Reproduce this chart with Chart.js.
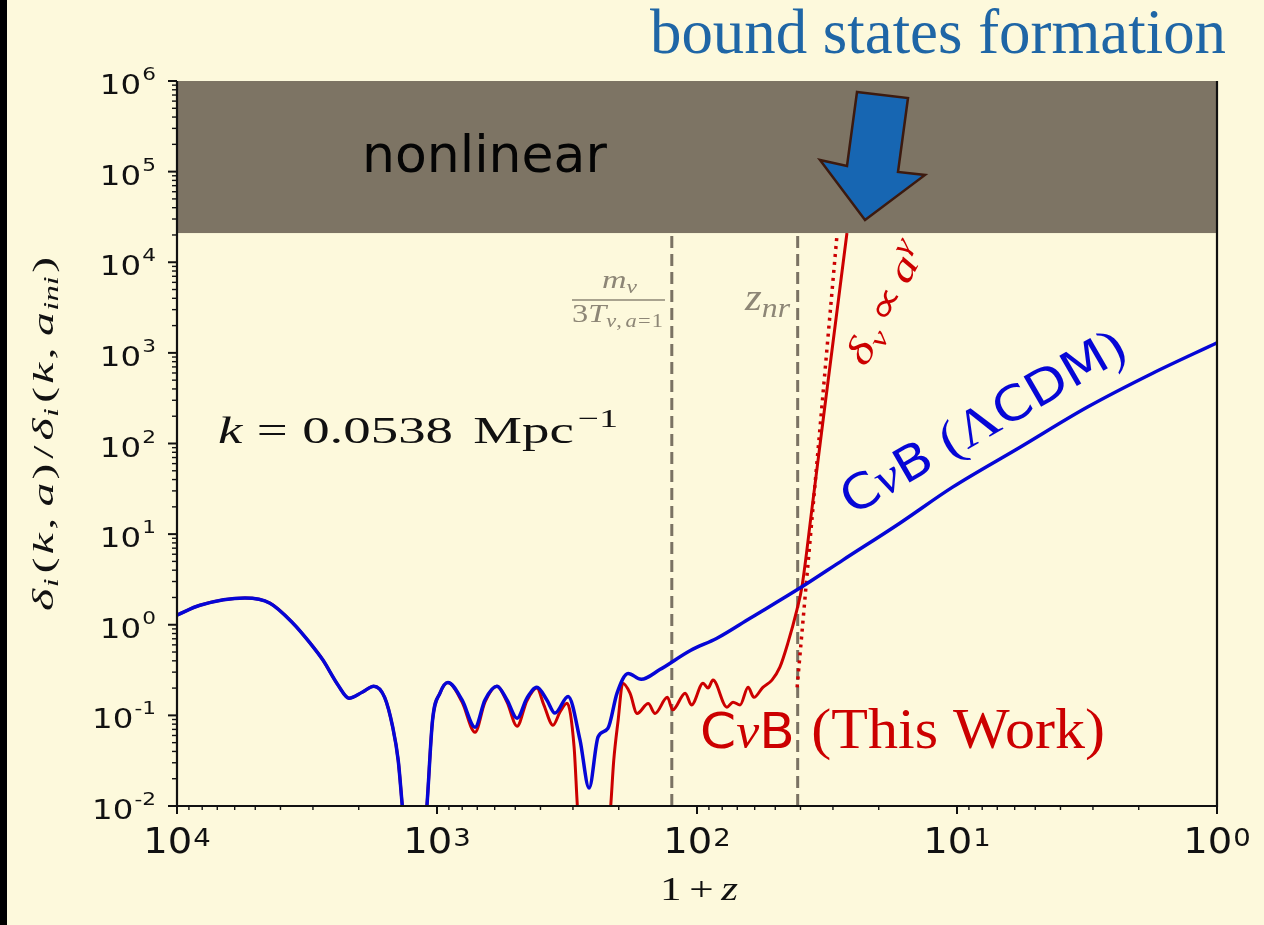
<!DOCTYPE html>
<html>
<head>
<meta charset="utf-8">
<script src="https://cdn.jsdelivr.net/npm/chart.js@4.4.1/dist/chart.umd.min.js"></script>
<style>
  html, body { margin: 0; padding: 0; background: #fdf9dc; }
  #grafico { display: block; }
</style>
</head>
<body>
<canvas id="grafico" width="1264" height="925"></canvas>
<script>
const umMaisZAzul = [10000, 8160, 5480, 4390, 3580, 3080, 2750, 2400, 2180, 1940, 1750, 1590, 1480, 1410,
    1350, 1230, 1100, 1040, 974, 908, 801, 714, 654, 588, 538, 492, 451, 413, 378, 352, 313, 282, 260,
    240, 220, 203, 184, 164, 139, 106, 83.8, 62.5, 40.2, 27.4, 16.6, 10.4, 5.72, 3.16, 1.76, 1];
const deltaAzul = [1.28, 1.64, 1.97, 1.73, 1.04, 0.63, 0.41, 0.215, 0.155, 0.18, 0.21, 0.158, 0.074, 0.032,
    0.008, 0.0008, 0.008, 0.089, 0.176, 0.23, 0.148, 0.074, 0.148, 0.21, 0.148, 0.093, 0.155, 0.204, 0.148, 0.106, 0.162, 0.054, 0.0158,
    0.058, 0.072, 0.176, 0.29, 0.25, 0.32, 0.52, 0.71, 1.18, 2.54, 5.2, 13.2, 33, 91, 251, 600, 1290];

// curva vermelha (este trabalho)
const umMaisZVermelho = [10000, 8160, 5480, 4390, 3580, 3080, 2750, 2400, 2180, 1940, 1750, 1590, 1480, 1410,
    1350, 1230, 1100, 1040, 974, 908, 801, 714, 654, 588, 538, 492, 451, 413, 388, 358, 336, 316, 297, 287,
    249, 216, 209, 201, 193, 181, 170, 154, 145, 130, 124, 111, 105, 94.8, 90.7, 86.8, 76.7, 72.7, 68.3,
    63.6, 60.4, 55.8, 51.5, 48.0, 44.7, 41.3, 39.5, 36.1, 32.2, 26.5];
const deltaVermelho = [1.28, 1.64, 1.97, 1.73, 1.04, 0.63, 0.41, 0.215, 0.155, 0.18, 0.21, 0.158, 0.074, 0.032,
    0.008, 0.0008, 0.008, 0.089, 0.176, 0.23, 0.14, 0.065, 0.14, 0.21, 0.14, 0.076, 0.145, 0.20, 0.13, 0.078, 0.11, 0.136, 0.045, 0.008,
    0.0005, 0.008, 0.032, 0.089, 0.226, 0.176, 0.105, 0.135, 0.105, 0.158, 0.115, 0.176, 0.13, 0.226, 0.20, 0.245, 0.123, 0.14, 0.13,
    0.204, 0.158, 0.204, 0.245, 0.34, 0.63, 1.45, 2.6, 19.5, 263, 21000];

// lei de potencia delta_nu ~ a^gamma (pontilhada)
const umMaisZPotencia = [41.2, 28.9];
const deltaPotencia = [0.204, 21000];

// linhas verticais: m_nu/3T e z_nr
const umMaisZVerticais = [125, 41];

const limiteNaoLinear = 21000;
const expoentesY = ['-2', '-1', '0', '1', '2', '3', '4', '5', '6'];
const expoentesX = ['4', '3', '2', '1', '0'];

const corFundo = '#fdf9dc';
const corBanda = '#7d7464';
const corAzul = '#0606d6';
const corVermelha = '#cc0000';
const corTracejado = '#7a7263';
const corCinzaTexto = '#8d8676';

const fSans = s => `${s}px "DejaVu Sans"`;
const fSerif = s => `${s}px "Liberation Serif"`;
const fItal = s => `italic ${s}px "Liberation Serif"`;

function pontos(xs, ys) {
    return xs.map((x, i) => ({ x: x, y: ys[i] }));
}

function medir(ctx, partes) {
    let largura = 0;
    for (const p of partes) {
        ctx.font = p.f;
        largura += (p.dx || 0) + ctx.measureText(p.t).width;
    }
    return largura;
}

// texto com partes (indices, expoentes, fontes misturadas), esticado e girado se preciso
function desenharTexto(ctx, partes, x, y, op = {}) {
    const natural = medir(ctx, partes);
    const sx = op.largura ? op.largura / natural : (op.sx || 1);
    const total = natural * sx;
    let x0 = 0;
    if (op.alinhar === 'center') x0 = -total / 2;
    else if (op.alinhar === 'right') x0 = -total;
    ctx.save();
    ctx.translate(x, y);
    if (op.ang) ctx.rotate(op.ang * Math.PI / 180);
    ctx.translate(x0, 0);
    ctx.scale(sx, 1);
    ctx.fillStyle = op.cor || '#111';
    ctx.textBaseline = 'alphabetic';
    ctx.textAlign = 'left';
    let cx = 0;
    for (const p of partes) {
        ctx.font = p.f;
        cx += p.dx || 0;
        ctx.fillText(p.t, cx, p.dy || 0);
        cx += ctx.measureText(p.t).width;
    }
    ctx.restore();
}

function linha(ctx, x1, y1, x2, y2, largura, cor) {
    ctx.beginPath();
    ctx.moveTo(x1, y1);
    ctx.lineTo(x2, y2);
    ctx.lineWidth = largura;
    ctx.strokeStyle = cor;
    ctx.stroke();
}

const desenhoDaFigura = {
    id: 'desenhoDaFigura',
    beforeDraw(chart) {
        const ctx = chart.ctx;
        ctx.save();
        ctx.fillStyle = corFundo;
        ctx.fillRect(0, 0, chart.width, chart.height);
        ctx.fillStyle = '#000';
        ctx.fillRect(0, 0, 7, chart.height);
        ctx.restore();
    },
    afterDatasetsDraw(chart) {
        const { ctx, chartArea: area, scales: { x, y } } = chart;
        ctx.save();

        // faixa nao linear
        const yBanda = y.getPixelForValue(limiteNaoLinear);
        const yTopo = y.getPixelForValue(1e6);
        ctx.fillStyle = corBanda;
        ctx.fillRect(area.left, yTopo, area.right - area.left, yBanda - yTopo);

        // eixos
        linha(ctx, area.left, area.top, area.left, area.bottom + 1, 2.2, '#111');
        linha(ctx, area.left - 1, area.bottom, area.right + 1, area.bottom, 2.2, '#111');
        linha(ctx, area.right, area.top, area.right, area.bottom + 1, 2.2, '#111');

        // marcas do eixo y
        expoentesY.forEach(e => {
            const dec = Number(e);
            for (let m = 1; m <= 9; m++) {
                const v = m * Math.pow(10, dec);
                if (v > 1e6) break;
                const py = y.getPixelForValue(v);
                const tam = m === 1 ? 9 : 5;
                linha(ctx, area.left - tam, py, area.left, py, m === 1 ? 2 : 1.4, '#111');
            }
            const py = y.getPixelForValue(Math.pow(10, dec));
            desenharTexto(ctx, [
                { t: '10', f: fSans(27) },
                { t: e, f: fSans(18), dy: -14, dx: 1 }
            ], 156, py + 13, { alinhar: 'right', sx: 1.2 });
        });

        // marcas do eixo x
        expoentesX.forEach(e => {
            const dec = Number(e);
            for (let m = 1; m <= 9; m++) {
                const v = m * Math.pow(10, dec);
                if (v > 1e4) break;
                const px = x.getPixelForValue(v);
                const tam = m === 1 ? 8 : 4;
                linha(ctx, px, area.bottom, px, area.bottom + tam, m === 1 ? 2 : 1.4, '#111');
            }
            const px = x.getPixelForValue(Math.pow(10, dec));
            desenharTexto(ctx, [
                { t: '10', f: fSans(35) },
                { t: e, f: fSans(25), dy: -7, dx: 1 }
            ], px, 853, { alinhar: 'center', sx: 1.1 });
        });

        // titulos dos eixos
        desenharTexto(ctx, [
            { t: '1', f: fSerif(34) },
            { t: '+', f: fSerif(34), dx: 6 },
            { t: 'z', f: fItal(34), dx: 6 }
        ], 699, 900, { alinhar: 'center', largura: 78 });

        desenharTexto(ctx, [
            { t: 'δ', f: fItal(29) }, { t: 'i', f: fItal(20), dy: 5, dx: 1 },
            { t: '(', f: fSerif(29), dx: 3 }, { t: 'k', f: fItal(29), dx: 2 }, { t: ',', f: fSerif(29), dx: 2 },
            { t: 'a', f: fItal(29), dx: 7 }, { t: ')', f: fSerif(29), dx: 2 },
            { t: '/', f: fSerif(29), dx: 3 },
            { t: 'δ', f: fItal(29), dx: 3 }, { t: 'i', f: fItal(20), dy: 5, dx: 1 },
            { t: '(', f: fSerif(29), dx: 3 }, { t: 'k', f: fItal(29), dx: 2 }, { t: ',', f: fSerif(29), dx: 2 },
            { t: 'a', f: fItal(29), dx: 7 }, { t: 'ini', f: fItal(20), dy: 5, dx: 1 }, { t: ')', f: fSerif(29), dx: 2 }
        ], 53, 434, { alinhar: 'center', ang: -90, largura: 354 });

        // k
        desenharTexto(ctx, [
            { t: 'k', f: fItal(38) },
            { t: '=', f: fSerif(38), dx: 10 },
            { t: '0.0538', f: fSerif(38), dx: 10 },
            { t: 'Mpc', f: fSerif(38), dx: 14 },
            { t: '−1', f: fSerif(26), dy: -16, dx: 3 }
        ], 218, 443, { largura: 400 });

        // m_nu / 3T_{nu,a=1}
        desenharTexto(ctx, [
            { t: 'm', f: fItal(26) }, { t: 'ν', f: fItal(18), dy: 5 }
        ], 602, 288, { largura: 35, cor: corCinzaTexto });
        linha(ctx, 572, 300, 665, 300, 1.6, corCinzaTexto);
        desenharTexto(ctx, [
            { t: '3', f: fSerif(26) }, { t: 'T', f: fItal(26) },
            { t: 'ν', f: fItal(18), dy: 5 }, { t: ',', f: fSerif(18), dy: 5 },
            { t: 'a', f: fItal(18), dy: 5, dx: 3 }, { t: '=', f: fSerif(18), dy: 5, dx: 1 },
            { t: '1', f: fSerif(18), dy: 5, dx: 1 }
        ], 572, 322, { largura: 91, cor: corCinzaTexto });

        // z_nr
        desenharTexto(ctx, [
            { t: 'z', f: fItal(38) }, { t: 'nr', f: fItal(28), dy: 7 }
        ], 745, 310, { largura: 45, cor: corCinzaTexto });

        // faixa e rotulos sobrepostos
        desenharTexto(ctx, [{ t: 'nonlinear', f: fSans(52) }], 362, 172, { cor: '#050505' });

        desenharTexto(ctx, [{ t: 'bound states formation', f: fSerif(63) }], 650, 53,
            { largura: 576, cor: '#1f66a6' });

        desenharTexto(ctx, [
            { t: 'C', f: fSans(50) }, { t: 'ν', f: fItal(50) }, { t: 'B', f: fSans(50) },
            { t: '(This Work)', f: fSerif(58), dx: 16 }
        ], 700, 748, { largura: 405, cor: corVermelha });

        desenharTexto(ctx, [
            { t: 'C', f: fSans(48) }, { t: 'ν', f: fItal(48) }, { t: 'B', f: fSans(48) },
            { t: '(', f: fSerif(52), dx: 14 }, { t: 'Λ', f: fSerif(52) },
            { t: 'CDM', f: fSans(48) }, { t: ')', f: fSerif(52) }
        ], 852, 516, { largura: 320, ang: -30, cor: corAzul });

        desenharTexto(ctx, [
            { t: 'δ', f: fItal(38) }, { t: 'ν', f: fItal(26), dy: 7 },
            { t: '∝', f: fSerif(38), dx: 6 },
            { t: 'a', f: fItal(38), dx: 6 }, { t: 'γ', f: fItal(26), dy: -15 }
        ], 866, 368, { largura: 132, ang: -63, cor: corVermelha });

        // seta
        const seta = [[857, 92], [908, 98], [898, 172], [925, 175], [865, 220], [820, 160], [847, 166]];
        ctx.beginPath();
        seta.forEach(([px, py], i) => i ? ctx.lineTo(px, py) : ctx.moveTo(px, py));
        ctx.closePath();
        ctx.fillStyle = '#1766b2';
        ctx.fill();
        ctx.lineWidth = 2.5;
        ctx.lineJoin = 'miter';
        ctx.strokeStyle = '#3c1a0f';
        ctx.stroke();

        ctx.restore();
    }
};

const ctx = document.querySelector('#grafico');

const datasets = [
    {
        label: 'CνB (ΛCDM)',
        data: pontos(umMaisZAzul, deltaAzul),
        borderColor: corAzul,
        borderWidth: 3.5,
        cubicInterpolationMode: 'monotone',
        order: 0
    },
    {
        label: 'CνB (This Work)',
        data: pontos(umMaisZVermelho, deltaVermelho),
        borderColor: corVermelha,
        borderWidth: 3,
        cubicInterpolationMode: 'monotone',
        order: 1
    },
    {
        label: 'δν ∝ aγ',
        data: pontos(umMaisZPotencia, deltaPotencia),
        borderColor: corVermelha,
        borderWidth: 3.5,
        borderDash: [3, 5],
        tension: 0,
        order: 2
    }
];

umMaisZVerticais.forEach((xv, i) => {
    datasets.push({
        label: i ? 'z_nr' : 'm/3T',
        data: pontos([xv, xv], [0.01, limiteNaoLinear]),
        borderColor: corTracejado,
        borderWidth: 3,
        borderDash: [12, 6],
        tension: 0,
        order: 3
    });
});

new Chart(ctx, {
    type: 'line',
    data: { datasets: datasets },
    plugins: [desenhoDaFigura],
    options: {
        responsive: false,
        animation: false,
        devicePixelRatio: 1,
        layout: { padding: { left: 177, right: 47, top: 81, bottom: 119 } },
        elements: { point: { radius: 0 } },
        plugins: {
            legend: { display: false },
            tooltip: { enabled: false }
        },
        scales: {
            x: { type: 'logarithmic', reverse: true, min: 1, max: 10000, display: false },
            y: { type: 'logarithmic', min: 0.01, max: 1e6, display: false }
        }
    }
});
</script>
</body>
</html>
